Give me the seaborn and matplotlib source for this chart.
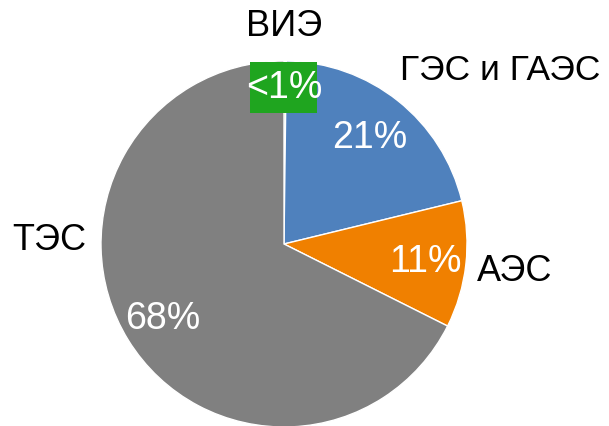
import matplotlib
matplotlib.use("Agg")
import matplotlib.pyplot as plt
from matplotlib.patches import Rectangle
import seaborn as sns

categories = ["ВИЭ", "ГЭС и ГАЭС", "АЭС", "ТЭС"]
values = [0.2, 21.0, 11.2, 67.6]
pct_labels = ["<1%", "21%", "11%", "68%"]
colors = ["#1fa51f", "#4f81bd", "#f08000", "#808080"]

sns.set_theme(style="white")
plt.rcParams['font.family'] = ['Liberation Sans', 'DejaVu Sans']

W, H = 609, 426
fig = plt.figure(figsize=(W / 100, H / 100), dpi=100)
cx, cy, r = 284, 244, 183
ax = fig.add_axes([(cx - r) / W, 1 - (cy + r) / H, 2 * r / W, 2 * r / H])

wedges, _ = ax.pie(values, colors=colors, startangle=90, counterclock=False,
                   radius=1, center=(0, 0),
                   wedgeprops=dict(edgecolor="white", linewidth=1))
ax.set_xlim(-1, 1)
ax.set_ylim(-1, 1)
ax.set_aspect("equal")
ax.axis("off")

cat_pos = [(0, 1.19), (1.18, 0.95), (1.26, -0.15), (-1.28, 0.02)]
cat_sizes = [26, 25.5, 26, 26]
pct_pos = [(0, 0.85), (0.47, 0.58), (0.77, -0.10), (-0.66, -0.41)]

for name, (x, y), fs in zip(categories, cat_pos, cat_sizes):
    ax.text(x, y, name, ha="center", va="center", fontsize=fs, color="black",
            clip_on=False)

# label background box for the tiny slice
ax.add_patch(Rectangle((-0.186, 0.716), 0.366, 0.279, facecolor=colors[0],
                       edgecolor="none", zorder=3))

for i, (lab, (x, y)) in enumerate(zip(pct_labels, pct_pos)):
    ax.text(x, y, lab, ha="center", va="center", fontsize=27, color="white",
            clip_on=False, zorder=4)

fig.savefig("out.png", dpi=100)
